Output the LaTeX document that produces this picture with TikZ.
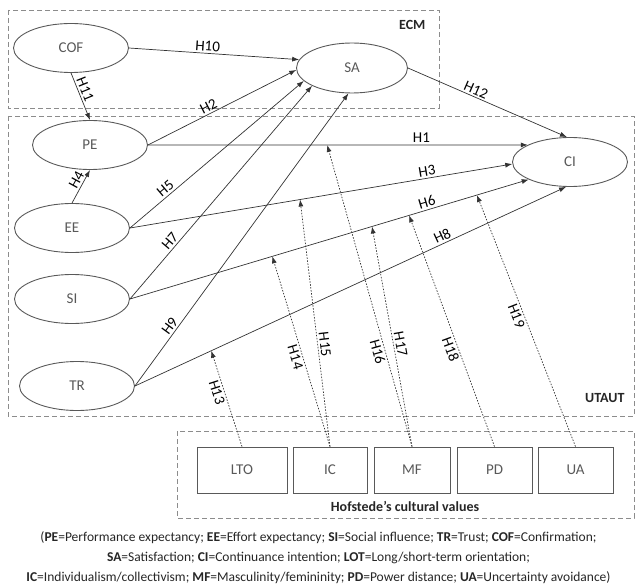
\documentclass[tikz,border=0pt]{standalone}
\usepackage{fontspec}
\setmainfont{Carlito}
\usetikzlibrary{shapes.geometric,arrows.meta}
\begin{document}
\begin{tikzpicture}[x=1pt, y=-1pt, font=\fontsize{15}{18}\selectfont,
  lat/.style = {draw=black!65, line width=0.9pt, ellipse, minimum width=115pt, minimum height=49pt, inner sep=0pt, text=black!65},
  dim/.style = {draw=black!65, line width=0.9pt, rectangle, minimum height=46pt, inner sep=0pt, text=black!65},
  grp/.style = {draw=black!45, line width=0.9pt, dash pattern=on 5pt off 3pt},
  grplabel/.style = {font=\fontsize{14}{16}\selectfont\bfseries, text=black!85},
  path/.style = {draw=black!80, line width=0.7pt, -{Latex[length=7pt,width=5pt]}},
  mod/.style = {draw=black!80, line width=0.7pt, dash pattern=on 1.5pt off 1.5pt, -{Latex[length=7pt,width=5pt]}},
  hyp/.style = {sloped, inner sep=2pt, text=black}]
\useasboundingbox (0,0) rectangle (637,588);

\draw[grp] (8,10) rectangle (439,108);
\draw[grp] (8,116) rectangle (634,416);
\draw[grp] (177,431) rectangle (634,518);
\node[grplabel, anchor=east] (ecm) at (429,25) {ECM};
\node[grplabel, anchor=east] (utaut) at (628,398) {UTAUT};
\node[grplabel] (hof) at (405,506) {Hofstede’s cultural values};

\node[lat] (COF) at (71,48) {COF};
\node[lat, minimum width=111pt, minimum height=50pt] (SA) at (352,68) {SA};
\node[lat] (PE) at (90,145) {PE};
\node[lat] (EE) at (72,228) {EE};
\node[lat] (SI) at (72,299) {SI};
\node[lat] (TR) at (77,386) {TR};
\node[lat] (CI) at (570,162) {CI};

\node[dim, minimum width=90pt] (LTO) at (242,470) {LTO};
\node[dim, minimum width=74pt] (IC) at (330,470) {IC};
\node[dim, minimum width=76pt] (MF) at (412,470) {MF};
\node[dim, minimum width=75pt] (PD) at (494.5,470) {PD};
\node[dim, minimum width=75pt] (UA) at (575.5,470) {UA};

\draw[path] (COF.east) -- (SA.171) node[hyp, above, pos=0.46] {H10};
\draw[path] (COF.south) -- (PE.north) node[hyp, above, pos=0.4] {H11};
\draw[path] (PE.east) -- (SA.182) node[hyp, above, pos=0.43] {H2};
\draw[path] (PE.east) -- (CI.158) node[hyp, above, pos=0.72] {H1} coordinate[pos=0.472] (m1);
\draw[path] (EE.north) -- (PE.south) node[hyp, above, pos=0.6] {H4};
\draw[path] (EE.east) -- (SA.195) node[hyp, above, pos=0.23] {H5};
\draw[path] (EE.east) -- (CI.182) node[hyp, above, pos=0.78] {H3} coordinate[pos=0.445] (m3);
\draw[path] (SI.east) -- (SA.204) node[hyp, above, pos=0.25] {H7};
\draw[path] (SI.east) -- (CI.203) node[hyp, above, pos=0.75] {H6} coordinate[pos=0.357] (m6a) coordinate[pos=0.607] (m6b) coordinate[pos=0.70] (m6c) coordinate[pos=0.87] (m6d);
\draw[path] (TR.east) -- (SA.262) node[hyp, above, pos=0.19] {H9};
\draw[path] (TR.east) -- (CI.261) node[hyp, above, pos=0.72] {H8} coordinate[pos=0.177] (m8);
\draw[path] (SA.east) -- (CI.97) node[hyp, above, pos=0.41] {H12};

\draw[mod] (LTO.north) -- (m8) node[hyp, below, pos=0.59] {H13};
\draw[mod] (IC.north) -- (m6a) node[hyp, below, pos=0.48] {H14};
\draw[mod] (IC.north) -- (m3) node[hyp, above, pos=0.41] {H15};
\draw[mod] (MF.north) -- (m1) node[hyp, below, pos=0.32] {H16};
\draw[mod] (MF.north) -- (m6b) node[hyp, above, pos=0.46] {H17};
\draw[mod] (PD.north) -- (m6c) node[hyp, below, pos=0.43] {H18};
\draw[mod] (UA.north) -- (m6d) node[hyp, below, pos=0.53] {H19};

\node[font=\fontsize{13.5}{20}\selectfont, align=center, text=black!85] (key) at (318.5,558) {(\textbf{PE}=Performance expectancy; \textbf{EE}=Effort expectancy; \textbf{SI}=Social influence; \textbf{TR}=Trust; \textbf{COF}=Confirmation;\\ \textbf{SA}=Satisfaction; \textbf{CI}=Continuance intention; \textbf{LOT}=Long/short-term orientation;\\ \textbf{IC}=Individualism/collectivism; \textbf{MF}=Masculinity/femininity; \textbf{PD}=Power distance; \textbf{UA}=Uncertainty avoidance)};
\end{tikzpicture}
\end{document}
